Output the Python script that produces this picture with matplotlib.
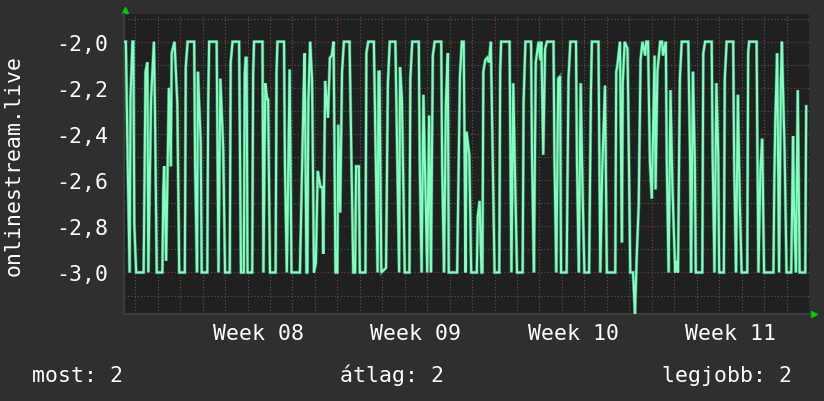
import matplotlib
matplotlib.use("Agg")
import matplotlib.pyplot as plt
from matplotlib.ticker import MultipleLocator, FixedLocator

# ---- data (hours from left edge of the graph, value) ----
hours = [1, 2, 4, 6, 7, 9, 10, 11, 13, 21, 23, 25, 26, 29, 32, 33, 35, 41, 42, 43,
         45, 48, 50, 51, 54, 57, 59, 65, 66, 68, 75, 76, 78, 79, 82, 83, 89, 90, 91, 99,
         101, 103, 106, 108, 113, 114, 116, 123, 124, 125, 128, 129, 130, 131, 132, 137, 138, 139, 148, 149,
         151, 153, 154, 156, 162, 163, 164, 171, 172, 174, 177, 179, 188, 190, 192, 193, 195, 196, 197, 199,
         201, 203, 205, 207, 210, 212, 213, 215, 218, 220, 222, 224, 226, 228, 229, 231, 233, 235, 241, 243,
         245, 247, 248, 251, 252, 258, 259, 261, 267, 269, 271, 272, 273, 275, 280, 282, 284, 290, 292, 294,
         295, 297, 300, 305, 306, 308, 315, 316, 318, 320, 322, 324, 326, 328, 330, 332, 339, 340, 342, 344,
         346, 347, 356, 358, 359, 361, 363, 365, 366, 369, 371, 377, 378, 380, 382, 383, 384, 386, 388, 390,
         392, 394, 396, 401, 402, 403, 412, 413, 414, 416, 418, 420, 426, 427, 429, 435, 436, 438, 440, 443,
         445, 446, 448, 450, 452, 459, 460, 462, 464, 466, 467, 473, 475, 477, 483, 484, 486, 488, 490, 492,
         497, 499, 500, 507, 509, 511, 514, 516, 525, 526, 527, 530, 532, 533, 535, 538, 539, 541, 544, 546,
         548, 550, 552, 554, 557, 558, 560, 562, 564, 567, 568, 570, 573, 575, 576, 579, 580, 582, 584, 586,
         589, 590, 592, 594, 596, 603, 605, 606, 608, 610, 611, 618, 619, 621, 628, 629, 631, 633, 635, 636,
         641, 642, 644, 651, 652, 654, 656, 658, 660, 666, 667, 668, 676, 677, 678, 680, 682, 684, 694, 695,
         696, 698, 700, 702, 703, 706, 708, 713, 715, 716, 718, 720, 722, 728, 729]
values = [-2.0, -2.0, -2.54, -3.0, -2.24, -2.0, -2.0, -2.79, -3.0, -3.0, -2.13, -2.09, -3.0, -2.24, -2.0, -2.27, -3.0, -3.0, -2.64, -2.54,
          -2.95, -2.2, -2.54, -2.05, -2.0, -2.27, -3.0, -3.0, -2.11, -2.0, -2.0, -2.54, -3.0, -2.13, -2.44, -3.0, -3.0, -2.26, -2.0, -2.0,
          -3.0, -2.16, -2.46, -3.0, -3.0, -2.09, -2.0, -2.0, -2.49, -3.0, -3.0, -2.14, -2.07, -2.07, -3.0, -3.0, -2.14, -2.0, -2.0, -3.0,
          -2.18, -2.25, -2.25, -3.0, -3.0, -2.13, -2.0, -2.0, -2.54, -3.0, -2.12, -3.0, -3.0, -2.61, -2.21, -2.05, -3.0, -3.0, -2.26, -2.0,
          -2.17, -3.0, -2.96, -2.56, -2.63, -2.63, -2.92, -2.17, -2.33, -2.07, -2.06, -2.0, -3.0, -3.0, -2.36, -2.74, -2.13, -2.0, -2.0, -2.51,
          -3.0, -3.0, -2.54, -2.54, -3.0, -3.0, -2.05, -2.0, -2.0, -2.49, -3.0, -2.13, -2.13, -3.0, -2.98, -2.18, -2.0, -2.0, -2.49, -3.0,
          -2.11, -2.25, -3.0, -3.0, -2.16, -2.0, -2.0, -2.51, -3.0, -2.23, -2.61, -3.0, -2.32, -3.0, -2.06, -2.0, -2.0, -2.54, -3.0, -2.26,
          -2.05, -3.0, -3.0, -2.43, -2.15, -2.0, -2.0, -3.0, -2.39, -2.49, -3.0, -3.0, -2.76, -2.69, -3.0, -3.0, -2.13, -2.08, -2.07, -2.09,
          -2.0, -2.51, -3.0, -3.0, -2.13, -2.0, -2.0, -2.51, -3.0, -2.18, -2.61, -3.0, -3.0, -2.26, -2.0, -2.0, -2.49, -3.0, -2.09, -2.0,
          -2.08, -2.0, -2.49, -2.03, -2.0, -2.0, -2.51, -3.0, -2.16, -2.15, -3.0, -3.0, -2.16, -2.0, -2.0, -2.51, -3.0, -2.18, -2.64, -3.0,
          -3.0, -2.21, -2.0, -2.0, -3.0, -2.56, -2.19, -3.0, -3.0, -2.13, -2.11, -2.0, -2.87, -2.18, -2.0, -2.03, -2.32, -3.0, -3.0, -3.18,
          -2.92, -2.71, -2.08, -2.0, -2.06, -2.0, -2.0, -2.52, -2.68, -2.06, -2.64, -2.13, -2.0, -2.0, -2.06, -2.0, -2.52, -3.0, -2.21, -2.62,
          -3.0, -2.95, -3.0, -2.16, -2.0, -2.0, -2.52, -3.0, -2.13, -2.52, -3.0, -3.0, -2.05, -2.0, -2.0, -2.49, -3.0, -2.18, -2.49, -3.0,
          -3.0, -2.16, -2.0, -2.0, -2.52, -3.0, -2.23, -2.69, -3.0, -3.0, -2.05, -2.0, -2.0, -2.54, -3.0, -2.56, -2.42, -3.0, -3.0, -2.59,
          -2.34, -2.05, -3.0, -2.16, -2.0, -2.49, -3.0, -3.0, -2.41, -2.72, -3.0, -2.21, -3.0, -3.0, -2.28]

week_bounds = [60, 228, 396, 564, 732]
week_labels = ["Week 08", "Week 09", "Week 10", "Week 11"]
week_label_pos = [144, 312, 480, 648]
y_ticks = [-3.0, -2.8, -2.6, -2.4, -2.2, -2.0]
y_label = "onlinestream.live"
footer = ["most: 2", "átlag: 2", "legjobb: 2"]

BG = "#2f2f2f"
PLOT_BG = "#202020"
FG = "#ffffff"
LINE = "#80ffc0"
FONT = "DejaVu Sans Mono"
FS = 15.5

fig = plt.figure(figsize=(8.24, 4.02), dpi=100, facecolor=BG)
ax = fig.add_axes([124 / 824, 87 / 402, 685 / 824, 300 / 402])
ax.set_facecolor(PLOT_BG)

ax.set_xlim(0, 732)
ax.set_ylim(-3.18, -1.88)

# grid
ax.xaxis.set_minor_locator(MultipleLocator(24, offset=12))
ax.xaxis.set_major_locator(FixedLocator(week_bounds))
ax.yaxis.set_major_locator(FixedLocator(y_ticks))
ax.yaxis.set_minor_locator(MultipleLocator(0.1))
ax.grid(which="minor", color="#5a5a5a", linestyle=(0, (1, 2)), linewidth=0.8)
ax.grid(which="major", color="#8a3a3a", linestyle=(0, (1, 2)), linewidth=0.8)
ax.set_axisbelow(True)

ax.plot(hours, values, color="#3d7a5c", linewidth=2.4, solid_joinstyle="miter", zorder=3)
ax.plot(hours, values, color=LINE, linewidth=1.5, solid_joinstyle="miter", zorder=4)

ax.set_yticklabels([f"{v:.1f}".replace(".", ",") for v in y_ticks],
                   fontsize=FS, color=FG, family=FONT)
ax.set_xticklabels([])
ax.tick_params(axis="both", which="both", length=0)
ax.tick_params(axis="y", pad=11.5)

for pos, lab in zip(week_label_pos, week_labels):
    ax.text(pos, -0.084, lab, transform=ax.get_xaxis_transform(), ha="center",
            va="baseline", fontsize=FS, color=FG, family=FONT)

for s in ["top", "right"]:
    ax.spines[s].set_visible(False)
for s in ["left", "bottom"]:
    ax.spines[s].set_color("#3c3c3c")
    ax.spines[s].set_linewidth(1.5)

fig.text(14 / 824, (402 - 165) / 402, y_label, rotation=90, ha="center",
         va="center", fontsize=FS, color=FG, family=FONT)

fig.text(32 / 824, 20 / 402, footer[0], ha="left", va="baseline", fontsize=FS, color=FG, family=FONT)
fig.text(392 / 824, 20 / 402, footer[1], ha="center", va="baseline", fontsize=FS, color=FG, family=FONT)
fig.text(792 / 824, 20 / 402, footer[2], ha="right", va="baseline", fontsize=FS, color=FG, family=FONT)

# arrows
ax.plot([0.002], [1.0 + 4 / 300], marker="^", color="#00cc00", markersize=5,
        transform=ax.transAxes, clip_on=False)
ax.plot([1.0 + 5 / 685], [0.0], marker=">", color="#00cc00", markersize=5,
        transform=ax.transAxes, clip_on=False)

fig.savefig("out.png", dpi=100, facecolor=BG)
